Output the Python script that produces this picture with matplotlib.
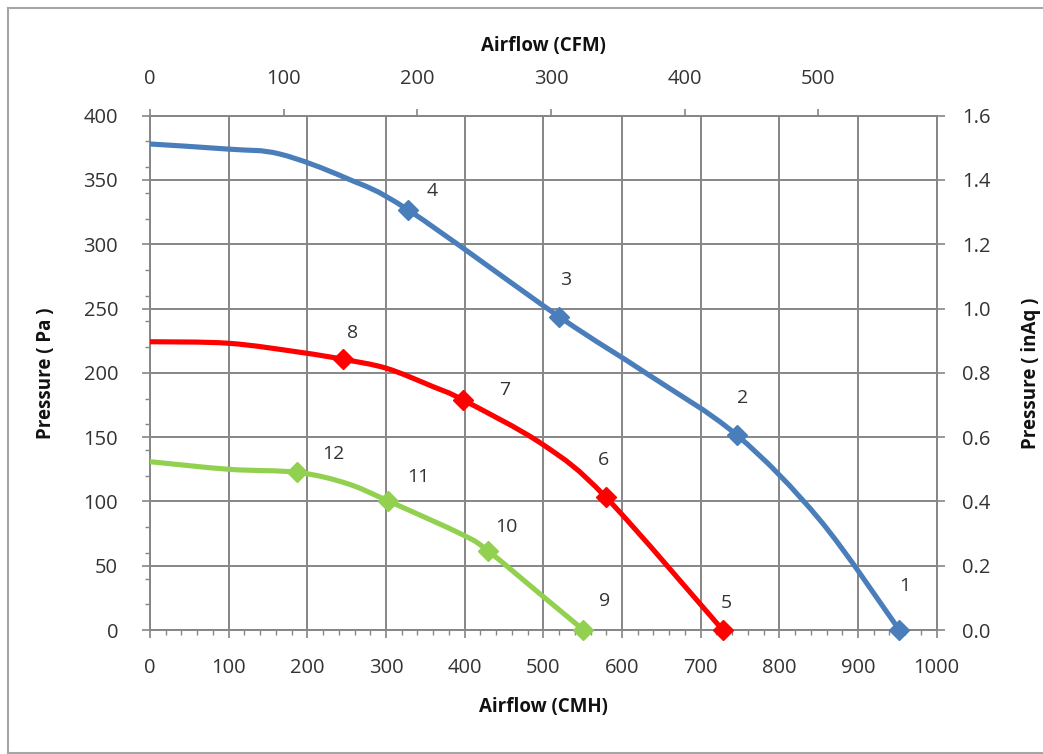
import matplotlib
matplotlib.use("Agg")
import numpy as np
import matplotlib.pyplot as plt
from matplotlib.lines import Line2D
from matplotlib.path import Path
from matplotlib.patches import PathPatch
from matplotlib.ticker import MultipleLocator

plt.rcParams['font.family'] = ['Open Sans', 'DejaVu Sans']

# ---- data ----
# curve shapes (CMH, Pa)
blue_x = [0, 100, 165, 250, 328.4, 520, 631, 745.7, 851.6, 952.5]
blue_y = [378.0, 374.0, 370.2, 351.3, 326.6, 243.7, 199.6, 151.7, 85.5, 0]
red_x = [0, 100, 190.7, 245.7, 300.8, 360, 398, 500, 579.6, 728]
red_y = [224.2, 223.0, 216.0, 210.5, 203.5, 189.2, 178.9, 144.0, 103.2, 0]
green_x = [0, 100, 187.3, 250, 303, 398, 430, 500, 551]
green_y = [130.9, 125.0, 122.6, 114.0, 100.3, 73.9, 61.4, 25.9, 0]

# measured (numbered) points
blue_pts_x = [952.5, 745.7, 520, 328.4]
blue_pts_y = [0, 151.7, 243.7, 326.6]
blue_labels = ["1", "2", "3", "4"]
red_pts_x = [728, 579.6, 398, 245.7]
red_pts_y = [0, 103.2, 178.9, 210.5]
red_labels = ["5", "6", "7", "8"]
green_pts_x = [551, 430, 303, 187.3]
green_pts_y = [0, 61.4, 100.3, 122.6]
green_labels = ["9", "10", "11", "12"]

x_ticks = [0, 100, 200, 300, 400, 500, 600, 700, 800, 900, 1000]
y_ticks = [0, 50, 100, 150, 200, 250, 300, 350, 400]
cfm_ticks = [0, 100, 200, 300, 400, 500]
inaq_ticks = [0.0, 0.2, 0.4, 0.6, 0.8, 1.0, 1.2, 1.4, 1.6]
CMH_PER_CFM = 1.699
PA_PER_INAQ = 250.0

# label offsets in pixels (style)
blue_off = [(5, 44), (6, 37), (7, 37), (24, 19)]
red_off = [(4, 27), (-2, 37), (42, 10), (9, 26)]
green_off = [(21, 29), (18, 24), (30, 24), (36, 18)]

BLUE = "#4A7EBB"
RED = "#FF0000"
GREEN = "#92D050"
GRID = "#868686"
TXT = "#333333"


def smooth_path(xs, ys):
    """Cubic Bezier (Catmull-Rom style, like a smoothed spreadsheet line) through the points."""
    p = np.column_stack([xs, ys]).astype(float)
    n = len(p)
    verts = [p[0]]
    codes = [Path.MOVETO]
    for i in range(n - 1):
        p0 = p[i - 1] if i > 0 else p[i]
        p1 = p[i]
        p2 = p[i + 1]
        p3 = p[i + 2] if i + 2 < n else p[i + 1]
        c1 = p1 + (p2 - p0) / 6.0
        c2 = p2 - (p3 - p1) / 6.0
        verts += [c1, c2, p2]
        codes += [Path.CURVE4] * 3
    return Path(np.array(verts), codes)


fig = plt.figure(figsize=(10.43, 7.54), dpi=100)
fig.patch.set_facecolor("white")
fx0, fx1 = 7.5 / 1043, 1.0
fy_top, fy_bot = 1 - 7.5 / 754, 1.5 / 754
for xs, ys in [([fx0, fx1], [fy_top, fy_top]), ([fx0, fx0], [fy_top, fy_bot]),
               ([fx0, fx1], [fy_bot, fy_bot])]:
    fig.add_artist(Line2D(xs, ys, transform=fig.transFigure, color="#A6A6A6", linewidth=1.5))

ax = fig.add_axes([150 / 1043, (754 - 630) / 754, 786.7 / 1043, 514.3 / 754])
ax.set_xlim(0, 1000)
ax.set_ylim(0, 400)

lw = 3.7
for xs, ys, c in [(blue_x, blue_y, BLUE), (red_x, red_y, RED), (green_x, green_y, GREEN)]:
    ax.add_patch(PathPatch(smooth_path(xs, ys), fill=False, edgecolor=c, linewidth=lw,
                           capstyle="round", joinstyle="round", zorder=3))

for px, py, labs, offs, c in [
        (blue_pts_x, blue_pts_y, blue_labels, blue_off, BLUE),
        (red_pts_x, red_pts_y, red_labels, red_off, RED),
        (green_pts_x, green_pts_y, green_labels, green_off, GREEN)]:
    ax.plot(px, py, linestyle="none", marker="D", markersize=10,
            color=c, markeredgecolor=c, zorder=4, clip_on=False)
    for x, y, t, (dx, dy) in zip(px, py, labs, offs):
        ax.annotate(t, (x, y), xytext=(dx, dy), textcoords="offset pixels",
                    ha="center", va="center", fontsize=14, color=TXT)

ax.set_xticks(x_ticks)
ax.set_yticks(y_ticks)
ax.xaxis.set_minor_locator(MultipleLocator(20))
ax.yaxis.set_minor_locator(MultipleLocator(20))
ax.grid(True, which="major", color=GRID, linewidth=1.4)
ax.set_axisbelow(True)
for s in ax.spines.values():
    s.set_color(GRID)
    s.set_linewidth(1.4)
ax.tick_params(which="major", direction="out", length=6, width=1.2, color=GRID,
               labelsize=14.5, labelcolor=TXT)
ax.tick_params(axis="x", which="major", pad=14)
ax.tick_params(axis="y", which="major", pad=17)
ax.tick_params(which="minor", direction="out", length=3.5, width=1.0, color=GRID)

ax.set_xlabel("Airflow (CMH)", fontsize=13.5, fontweight="bold", color="#111111", labelpad=14)
ax.set_ylabel("Pressure ( Pa )", fontsize=13.5, fontweight="bold", color="#111111", labelpad=20)

top = ax.secondary_xaxis("top", functions=(lambda v: v / CMH_PER_CFM, lambda v: v * CMH_PER_CFM))
top.set_xticks(cfm_ticks)
top.tick_params(direction="out", length=5, width=1.2, color=GRID, labelsize=14.5,
                labelcolor=TXT, pad=14)
top.spines["top"].set_visible(False)
top.set_xlabel("Airflow (CFM)", fontsize=13.5, fontweight="bold", color="#111111", labelpad=13)

right = ax.secondary_yaxis("right", functions=(lambda v: v / PA_PER_INAQ, lambda v: v * PA_PER_INAQ))
right.set_yticks(inaq_ticks)
right.set_yticklabels([f"{v:.1f}" for v in inaq_ticks])
right.tick_params(direction="out", length=6, width=1.2, color=GRID, labelsize=14.5,
                  labelcolor=TXT, pad=12)
right.spines["right"].set_visible(False)
right.set_ylabel("Pressure ( inAq )", fontsize=13.5, fontweight="bold", color="#111111",
                 labelpad=22, rotation=90)

fig.savefig("out.png", dpi=100, facecolor="white")
